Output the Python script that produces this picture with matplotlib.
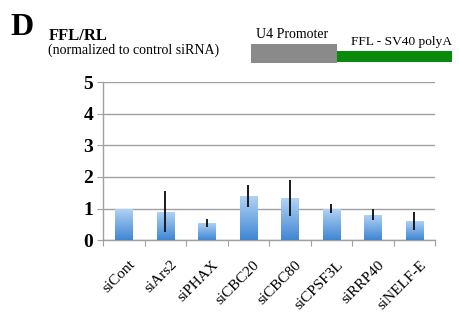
import matplotlib
matplotlib.use("Agg")
import matplotlib.pyplot as plt
import numpy as np
from matplotlib.patches import Rectangle
from matplotlib.colors import LinearSegmentedColormap
import matplotlib.transforms as mtransforms

categories = ["siCont", "siArs2", "siPHAX", "siCBC20", "siCBC80", "siCPSF3L", "siRRP40", "siNELF-E"]
values = [1.0, 0.9, 0.55, 1.41, 1.33, 1.0, 0.81, 0.61]
errors = [0.0, 0.65, 0.12, 0.35, 0.58, 0.14, 0.17, 0.29]
yticks = [0, 1, 2, 3, 4, 5]

serif = ["Liberation Serif", "DejaVu Serif"]
plt.rcParams['font.family'] = serif

fig = plt.figure(figsize=(4.6, 3.18), dpi=100)
ax = fig.add_axes([0.224, 0.245, 0.722, 0.496])

x = np.arange(len(categories))
width = 0.41
cmap = LinearSegmentedColormap.from_list("bl", ["#3f86d2", "#b3d4f7"])
grad = np.linspace(0, 1, 256).reshape(-1, 1)
bars = ax.bar(x, values, width=width, color="none", edgecolor="none", zorder=3)
for b in bars:
    x0, y0 = b.get_x(), b.get_y()
    w, h = b.get_width(), b.get_height()
    im = ax.imshow(grad, cmap=cmap, aspect="auto", origin="lower",
                   extent=[x0, x0 + w, y0, y0 + h], zorder=3)
    im.set_clip_path(b)
ax.errorbar(x, values, yerr=errors, fmt="none", ecolor="#1a1a1a", elinewidth=1.4,
            capsize=0, zorder=4)

ax.set_xlim(-0.5, len(categories) - 0.5)
ax.set_ylim(0, 5)
ax.set_yticks(yticks)
ax.set_yticklabels([str(t) for t in yticks], fontsize=14, fontweight="bold")
ax.yaxis.grid(True, color="#a0a0a0", linewidth=1.0, zorder=0)
ax.set_axisbelow(True)
ax.set_xticks(np.arange(-0.5, len(categories), 1.0))
ax.set_xticklabels([])
ax.set_xticks(x, minor=True)
ax.set_xticklabels(categories, minor=True, rotation=45, ha="right",
                   rotation_mode="anchor", fontsize=11)
ax.tick_params(axis="x", which="minor", length=0, pad=13)
ax.tick_params(axis="x", which="major", length=4, color="#a0a0a0", direction="out")
ax.tick_params(axis="y", length=4, color="#a0a0a0", pad=3)
for s in ["top", "right"]:
    ax.spines[s].set_visible(False)
for s in ["left", "bottom"]:
    ax.spines[s].set_color("#a0a0a0")
    ax.spines[s].set_linewidth(1.0)

offset = mtransforms.ScaledTranslation(3.5/72, 0, fig.dpi_scale_trans)
for lab in ax.get_xticklabels(minor=True):
    lab.set_transform(lab.get_transform() + offset)

# Header texts
fig.text(10/460, 1 - 35/318, "D", fontsize=23, fontweight="bold", va="baseline",
         family=serif)
fig.text(49/460, 1 - 40/318, "FFL/RL", fontsize=12, fontweight="bold", va="baseline",
         family=serif)
fig.text(48/460, 1 - 54/318, "(normalized to control siRNA)", fontsize=10, va="baseline",
         family=serif)
fig.text(256/460, 1 - 38/318, "U4 Promoter", fontsize=10, va="baseline", family=serif)
fig.text(351/460, 1 - 45/318, "FFL - SV40 polyA", fontsize=9.6, va="baseline", family=serif)
fig.patches.append(Rectangle((251/460, 1 - 62.5/318), 86/460, 19/318,
                             transform=fig.transFigure, facecolor="#8a8a8a",
                             edgecolor="none"))
fig.patches.append(Rectangle((337/460, 1 - 62/318), 115/460, 10.5/318,
                             transform=fig.transFigure, facecolor="#0a8a0a",
                             edgecolor="none"))

fig.savefig("out.png", dpi=100)
